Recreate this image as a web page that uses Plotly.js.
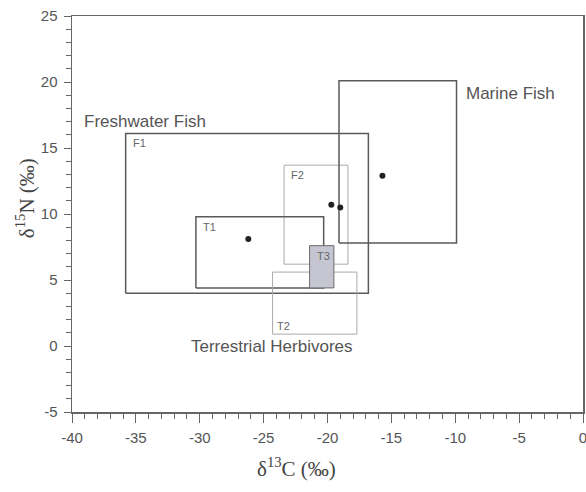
<!DOCTYPE html>
<html>
<head>
<meta charset="utf-8">
<script src="https://cdn.plot.ly/plotly-3.0.1.min.js"></script>
<style>html,body{margin:0;padding:0;background:#fff;}#chart{width:586px;height:492px;}</style>
</head>
<body>
<div id="chart"></div>
<script>
// Box ranges (δ13C x, δ15N y)
const boxNames = ["F1", "F2", "T1", "T2", "Marine", "T3"];
const boxX0 = [-35.8, -23.4, -30.3, -24.3, -19.1, -21.4];
const boxX1 = [-16.8, -18.4, -20.3, -17.7, -9.9, -19.5];
const boxY0 = [4.0, 6.2, 4.4, 0.9, 7.8, 4.4];
const boxY1 = [16.1, 13.7, 9.8, 5.6, 20.1, 7.6];

// Mean points
const pointX = [-26.2, -19.7, -19.0, -15.7];
const pointY = [8.1, 10.7, 10.5, 12.9];

// Group labels
const groupLabels = ["Freshwater Fish", "Marine Fish", "Terrestrial Herbivores"];

// Axis ticks
const xTicks = [-40, -35, -30, -25, -20, -15, -10, -5, 0];
const xTickText = ["-40", "-35", "-30", "-25", "-20", "-15", "-10", "-5", "0"];
const yTicks = [-5, 0, 5, 10, 15, 20, 25];
const yTickText = ["-5", "0", "5", "10", "15", "20", "25"];

const dark = "#5a5a5a", light = "#aaaaaa";
const styles = {
  F1: {color: dark, width: 1.5},
  F2: {color: light, width: 1},
  T1: {color: dark, width: 1.5},
  T2: {color: light, width: 1},
  Marine: {color: dark, width: 1.5},
  T3: {color: "#6a6a6a", width: 1}
};

const traces = boxNames.map((n, i) => {
  const t = {
    type: "scatter", mode: "lines", hoverinfo: "skip", showlegend: false,
    x: [boxX0[i], boxX1[i], boxX1[i], boxX0[i], boxX0[i]],
    y: [boxY0[i], boxY0[i], boxY1[i], boxY1[i], boxY0[i]],
    line: styles[n]
  };
  if (n === "T3") { t.fill = "toself"; t.fillcolor = "#c6c6d2"; }
  return t;
});
traces.push({
  type: "scatter", mode: "markers", x: pointX, y: pointY, showlegend: false,
  marker: {color: "#222", size: 6}
});

const small = {family: "Liberation Sans, Arial, sans-serif", size: 11, color: "#666"};
const big = {family: "Liberation Sans, Arial, sans-serif", size: 17, color: "#555"};
const idx = n => boxNames.indexOf(n);
const ann = [];
["F1", "F2", "T1", "T3"].forEach(n => {
  const i = idx(n);
  ann.push({x: boxX0[i], y: boxY1[i], xref: "x", yref: "y", text: n, showarrow: false,
    xanchor: "left", yanchor: "top", xshift: 5, yshift: -2, font: small});
});
{
  const i = idx("T2");
  ann.push({x: boxX0[i], y: boxY0[i], xref: "x", yref: "y", text: "T2", showarrow: false,
    xanchor: "left", yanchor: "bottom", xshift: 2, yshift: 0, font: small});
}
ann.push({x: -39.2, y: 17.0, xref: "x", yref: "y", text: groupLabels[0], showarrow: false, xanchor: "left", yanchor: "middle", font: big});
ann.push({x: -9.3, y: 19.15, xref: "x", yref: "y", text: groupLabels[1], showarrow: false, xanchor: "left", yanchor: "middle", font: big});
ann.push({x: -30.85, y: 0.0, xref: "x", yref: "y", text: groupLabels[2], showarrow: false, xanchor: "left", yanchor: "middle", font: big});

const serif = {family: "Liberation Serif, Times New Roman, serif", size: 21, color: "#444"};
ann.push({x: 0.44, y: -0.14, xref: "paper", yref: "paper", text: "δ<sup>13</sup>C (‰)", showarrow: false, xanchor: "center", yanchor: "middle", font: serif});
ann.push({x: -0.092, y: 0.54, xref: "paper", yref: "paper", text: "δ<sup>15</sup>N (‰)", showarrow: false, textangle: -90, xanchor: "center", yanchor: "middle", font: serif});

const axisCommon = {
  showgrid: false, zeroline: false, showline: true, mirror: true,
  linecolor: "#666", linewidth: 1.5, ticks: "outside", tickcolor: "#666",
  tickwidth: 1, tickfont: {family: "Liberation Sans, Arial, sans-serif", size: 15, color: "#555"},
  tickmode: "array", ticklabeloverflow: "allow"
};

const layout = {
  width: 586, height: 492,
  margin: {l: 72, r: 3, t: 16, b: 80},
  paper_bgcolor: "#fff", plot_bgcolor: "#fff",
  showlegend: false,
  xaxis: Object.assign({}, axisCommon, {
    range: [-40, 0], tickvals: xTicks, ticktext: xTickText, ticklen: 9,
    ticklabelstandoff: 2,
    minor: {dtick: 1, ticks: "outside", ticklen: 5, tickcolor: "#666", tickwidth: 1, showgrid: false}
  }),
  yaxis: Object.assign({}, axisCommon, {
    range: [-5, 25], tickvals: yTicks, ticktext: yTickText, ticklen: 7,
    ticklabelstandoff: 3,
    minor: {dtick: 1, ticks: "outside", ticklen: 5, tickcolor: "#666", tickwidth: 1, showgrid: false}
  }),
  annotations: ann
};

Plotly.newPlot("chart", traces, layout, {displayModeBar: false, staticPlot: true});
</script>
</body>
</html>
